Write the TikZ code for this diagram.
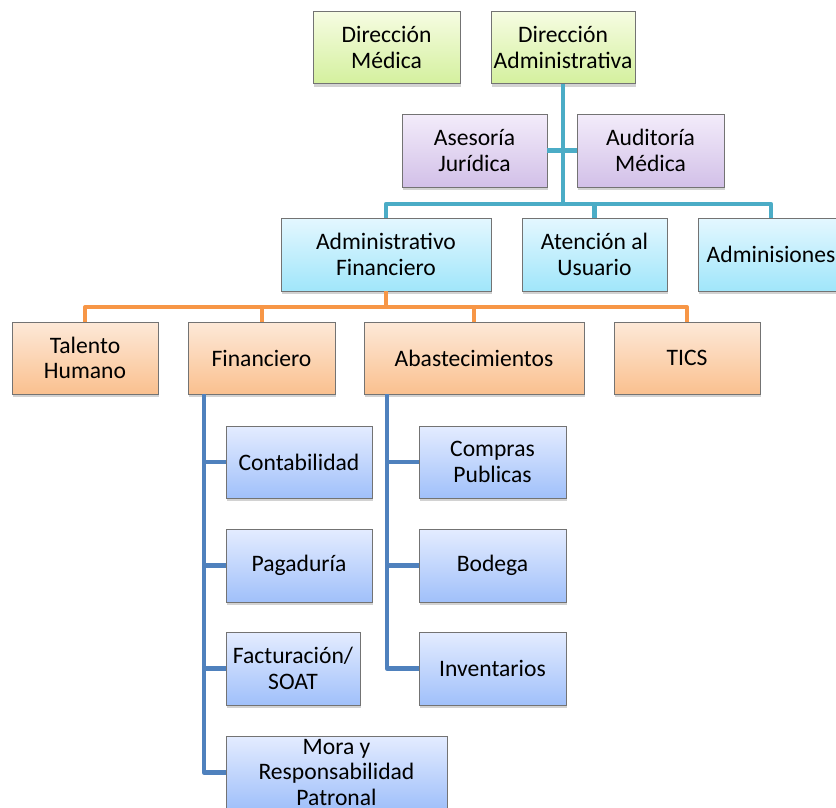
\documentclass[tikz,border=0pt]{standalone}
\usepackage{fontspec}
\setmainfont{Carlito}
\usetikzlibrary{shadows}

\definecolor{tealline}{RGB}{75,172,198}
\definecolor{orangeline}{RGB}{247,150,70}
\definecolor{blueline}{RGB}{79,129,189}

\definecolor{greenTop}{RGB}{246,252,226}
\definecolor{greenBot}{RGB}{212,240,158}
\definecolor{purpleTop}{RGB}{243,236,250}
\definecolor{purpleBot}{RGB}{210,192,232}
\definecolor{cyanTop}{RGB}{228,247,255}
\definecolor{cyanBot}{RGB}{160,230,250}
\definecolor{orangeTop}{RGB}{253,233,216}
\definecolor{orangeBot}{RGB}{250,192,143}
\definecolor{blueTop}{RGB}{228,236,255}
\definecolor{blueBot}{RGB}{160,192,250}

\tikzset{
  unit/.style={draw=black!55, line width=0.9pt, align=center,
    inner sep=0pt, minimum height=72pt,
    font=\fontsize{23.6}{25.5}\selectfont,
    drop shadow={shadow xshift=1.2pt, shadow yshift=-3pt, opacity=0.25, fill=black!70}},
  greenbox/.style={unit, top color=greenTop, bottom color=greenBot},
  purplebox/.style={unit, top color=purpleTop, bottom color=purpleBot},
  cyanbox/.style={unit, top color=cyanTop, bottom color=cyanBot},
  orangebox/.style={unit, top color=orangeTop, bottom color=orangeBot},
  bluebox/.style={unit, top color=blueTop, bottom color=blueBot},
  link/.style={line width=4.5pt, line join=round},
  teallink/.style={link, draw=tealline},
  orangelink/.style={link, draw=orangeline, line width=4pt},
  bluelink/.style={link, draw=blueline},
}

\begin{document}
\begin{tikzpicture}[x=1pt, y=-1pt]
  \useasboundingbox (0,0) rectangle (836,807);

  % junction points of the connector trees
  \coordinate (busTop) at (563,204);
  \coordinate (busMid) at (386,307);
  \coordinate (finTrunk) at (204,394);
  \coordinate (abaTrunk) at (387,394);

  % --- top level ---
  \node[greenbox, minimum width=147pt] (dm) at (386.5,47.5) {Dirección\\Médica};
  \node[greenbox, minimum width=144pt] (da) at (563,47.5) {Dirección\\Administrativa};

  % --- advisory units ---
  \node[purplebox, minimum width=145pt, minimum height=73pt] (aj) at (474.5,150.5) {Asesoría\\Jurídica};
  \node[purplebox, minimum width=147pt, minimum height=73pt] (am) at (650.5,150.5) {Auditoría\\Médica};

  % --- second level ---
  \node[cyanbox, minimum width=210pt, minimum height=73pt] (af) at (386,254.5) {Administrativo\\Financiero};
  \node[cyanbox, minimum width=145pt, minimum height=73pt] (au) at (594.5,254.5) {Atención al\\Usuario};
  \node[cyanbox, minimum width=146pt, minimum height=73pt] (ad) at (771,254.5) {Adminisiones};

  % --- third level ---
  \node[orangebox, minimum width=146pt] (th) at (85,358) {Talento\\Humano};
  \node[orangebox, minimum width=147pt] (fi) at (261.5,358) {Financiero};
  \node[orangebox, minimum width=220pt] (ab) at (474,358) {Abastecimientos};
  \node[orangebox, minimum width=146pt] (ti) at (687,358) {TICS};

  % --- Financiero units ---
  \node[bluebox, minimum width=146pt] (co) at (299,462) {Contabilidad};
  \node[bluebox, minimum width=146pt, minimum height=73pt] (pa) at (299,565.5) {Pagaduría};
  \node[bluebox, minimum width=134pt, minimum height=73pt] (fa) at (293,668.5) {Facturación/\\SOAT};
  \node[bluebox, minimum width=221pt, minimum height=73pt] (mo) at (336.5,772.5) {Mora y\\Responsabilidad\\Patronal};

  % --- Abastecimientos units ---
  \node[bluebox, minimum width=147pt] (cp) at (492.5,462) {Compras\\Publicas};
  \node[bluebox, minimum width=147pt, minimum height=73pt] (bo) at (492.5,565.5) {Bodega};
  \node[bluebox, minimum width=147pt, minimum height=73pt] (iv) at (492.5,668.5) {Inventarios};

  % teal tree
  \draw[teallink] (da.south) -- (busTop);
  \draw[teallink] (aj.east) -- (am.west);
  \draw[teallink] (af.north) |- (busTop) -| (ad.north);
  \draw[teallink] (busTop) -| (au.north);

  % orange tree
  \draw[orangelink] (af.south) -- (busMid);
  \draw[orangelink] (th.north) |- (busMid) -| (ti.north);
  \draw[orangelink] (busMid) -| (fi.north);
  \draw[orangelink] (busMid) -| (ab.north);

  % blue trees
  \draw[bluelink] (finTrunk) |- (mo.west);
  \draw[bluelink] (finTrunk |- co.west) -- (co.west);
  \draw[bluelink] (finTrunk |- pa.west) -- (pa.west);
  \draw[bluelink] (finTrunk |- fa.west) -- (fa.west);
  \draw[bluelink] (abaTrunk) |- (iv.west);
  \draw[bluelink] (abaTrunk |- cp.west) -- (cp.west);
  \draw[bluelink] (abaTrunk |- bo.west) -- (bo.west);
\end{tikzpicture}
\end{document}
